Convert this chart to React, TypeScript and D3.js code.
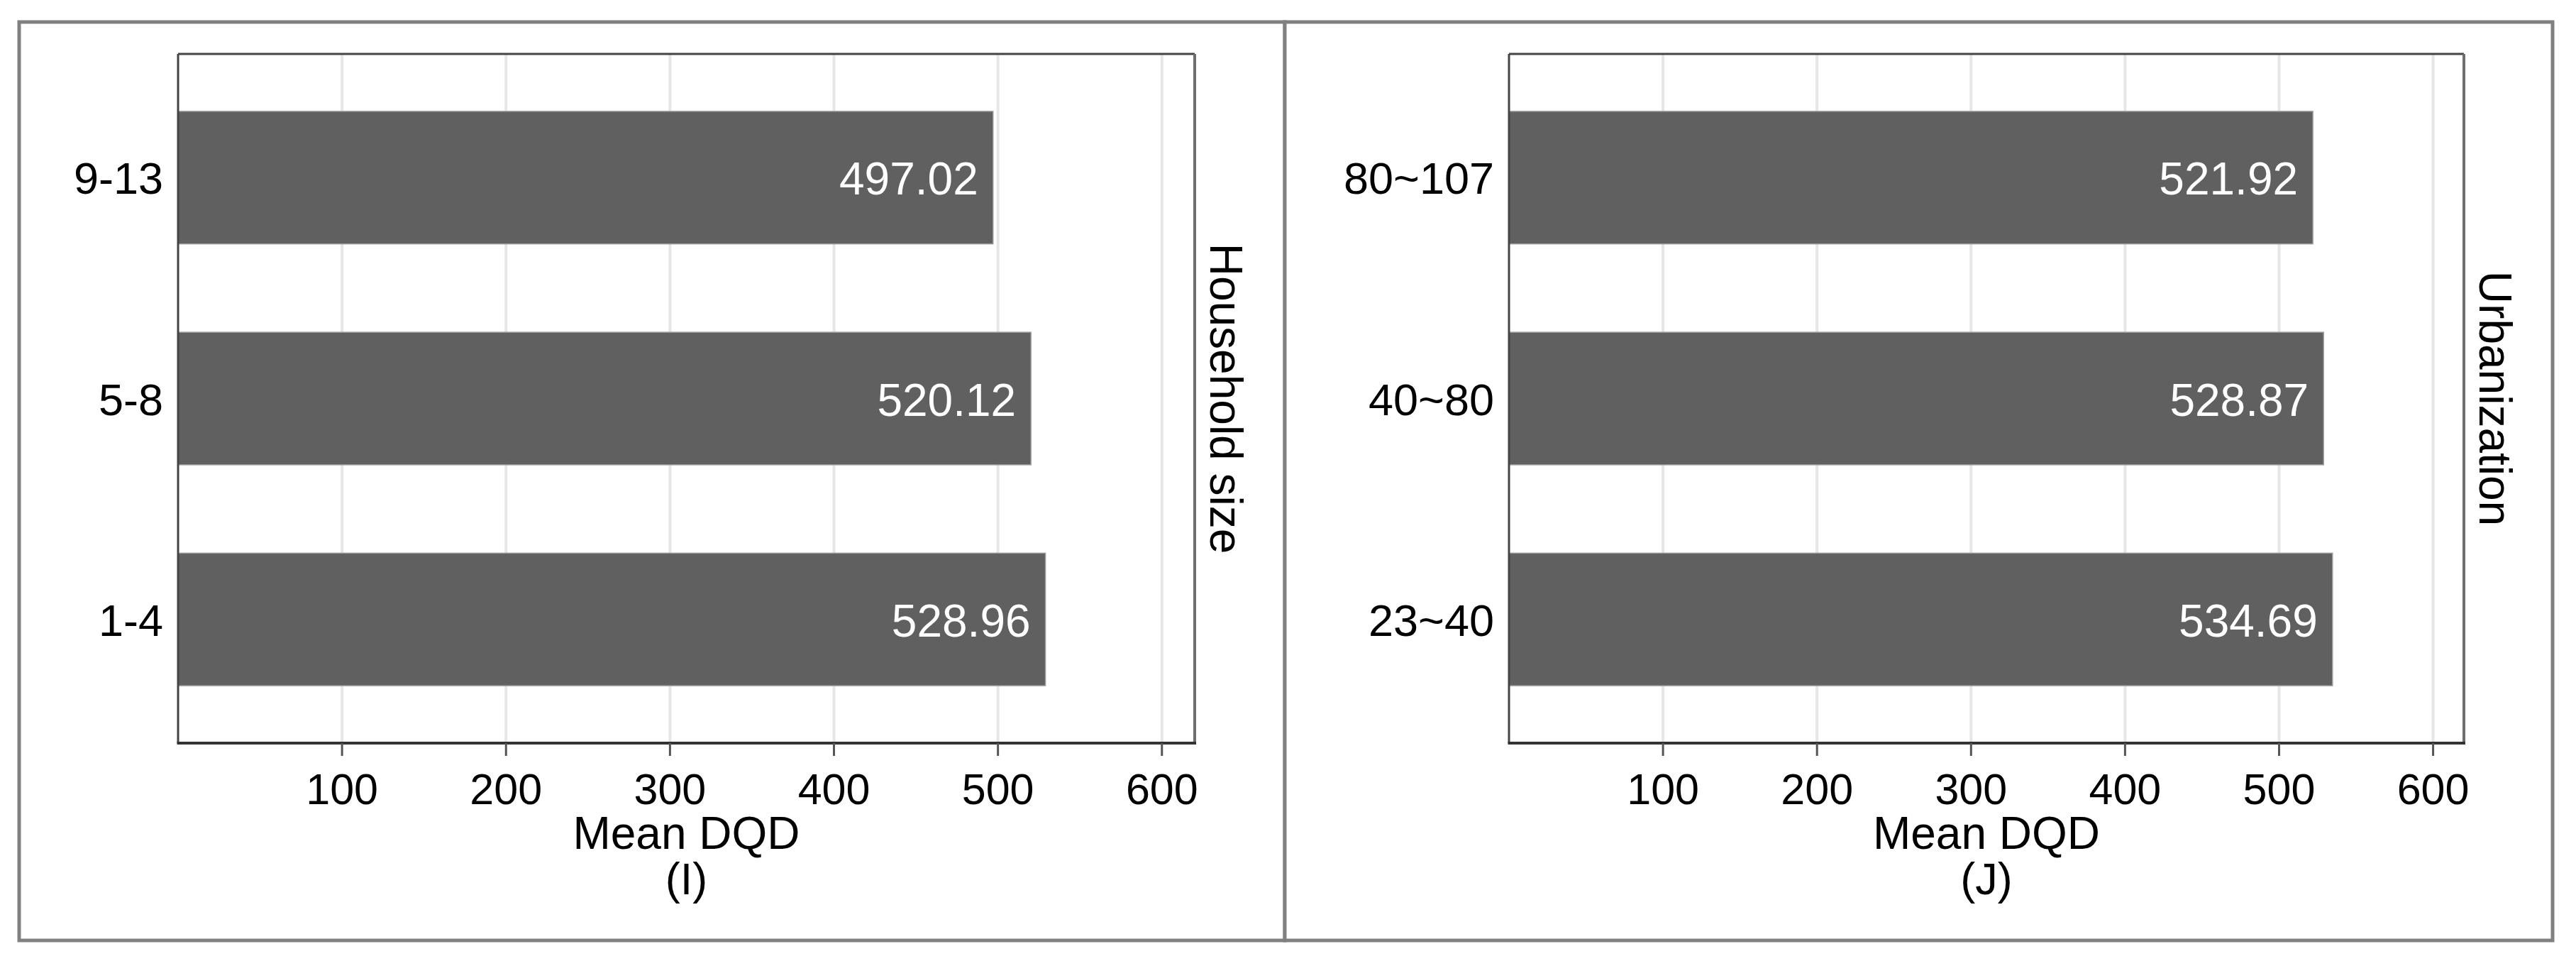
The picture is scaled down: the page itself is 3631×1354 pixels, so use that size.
import React from "react";
import * as d3 from "d3";

const householdCategories = ["9-13", "5-8", "1-4"];
const householdValues = [497.02, 520.12, 528.96];
const urbanCategories = ["80~107", "40~80", "23~40"];
const urbanValues = [521.92, 528.87, 534.69];
const xTicks = [100, 200, 300, 400, 500, 600];
const xDomainMax = 620;

const panelTitles = ["Household size", "Urbanization"];
const xTitle = "Mean DQD";
const panelLetters = ["(I)", "(J)"];

const W = 3631;
const H = 1354;
const FONT = "'Liberation Sans', Arial, Helvetica, sans-serif";

type PanelProps = {
  categories: string[];
  values: number[];
  title: string;
  letter: string;
  frame: [number, number, number, number];
  plot: [number, number, number, number];
};

function Panel({ categories, values, title, letter, frame, plot }: PanelProps) {
  const [pl, pt, pr, pb] = plot;
  const x = d3.scaleLinear().domain([0, xDomainMax]).range([pl, pr]);
  const y = d3
    .scaleBand<string>()
    .domain(categories)
    .range([pt, pb])
    .paddingInner(0.4)
    .paddingOuter(0.26);
  const cx = (pl + pr) / 2;
  const cy = (pt + pb) / 2;
  return (
    <g>
      <rect
        x={frame[0]}
        y={frame[1]}
        width={frame[2] - frame[0]}
        height={frame[3] - frame[1]}
        fill="white"
        stroke="#808080"
        strokeWidth={5}
      />
      <rect x={pl} y={pt} width={pr - pl} height={pb - pt} fill="white" />
      {xTicks.map((t) => (
        <line
          key={"g" + t}
          x1={x(t)}
          x2={x(t)}
          y1={pt}
          y2={pb}
          stroke="#e6e6e6"
          strokeWidth={4}
        />
      ))}
      {categories.map((c, i) => (
        <rect
          key={"b" + c}
          x={x(0)}
          y={y(c)!}
          width={x(values[i]) - x(0)}
          height={y.bandwidth()}
          fill="#606060"
          stroke="#9a9a9a"
          strokeWidth={1.5}
        />
      ))}
      {categories.map((c, i) => (
        <text
          key={"v" + c}
          x={x(values[i]) - 21}
          y={y(c)! + y.bandwidth() / 2 + 24}
          textAnchor="end"
          fill="white"
          fontSize={64}
          fontFamily={FONT}
        >
          {values[i].toFixed(2)}
        </text>
      ))}
      {categories.map((c) => (
        <text
          key={"c" + c}
          x={pl - 21}
          y={y(c)! + y.bandwidth() / 2 + 23}
          textAnchor="end"
          fill="black"
          fontSize={63}
          fontFamily={FONT}
        >
          {c}
        </text>
      ))}
      {/* plot region outline */}
      <line x1={pl} x2={pr} y1={pt} y2={pt} stroke="#444" strokeWidth={3} />
      <line x1={pr} x2={pr} y1={pt} y2={pb} stroke="#6e6e6e" strokeWidth={4} />
      <line x1={pl} x2={pl} y1={pt} y2={pb} stroke="#444" strokeWidth={3} />
      <line x1={pl - 1.5} x2={pr + 2} y1={pb} y2={pb} stroke="#333" strokeWidth={4} />
      {xTicks.map((t) => (
        <g key={"t" + t}>
          <line x1={x(t)} x2={x(t)} y1={pb} y2={pb + 18} stroke="#555" strokeWidth={3} />
          <text
            x={x(t)}
            y={1133}
            textAnchor="middle"
            fill="black"
            fontSize={61}
            fontFamily={FONT}
          >
            {t}
          </text>
        </g>
      ))}
      <text x={cx} y={1196} textAnchor="middle" fill="black" fontSize={64} fontFamily={FONT}>
        {xTitle}
      </text>
      <text x={cx} y={1260} textAnchor="middle" fill="black" fontSize={63} fontFamily={FONT}>
        {letter}
      </text>
      <text
        transform={`translate(${pr + 22},${cy}) rotate(90)`}
        textAnchor="middle"
        fill="black"
        fontSize={64}
        fontFamily={FONT}
      >
        {title}
      </text>
    </g>
  );
}

export default function App() {
  return (
    <svg
      width={W}
      height={H}
      viewBox={`0 0 ${W} ${H}`}
      style={{ position: "absolute", left: 0, top: 0, background: "white" }}
    >
      <rect x={0} y={0} width={W} height={H} fill="white" />
      <Panel
        categories={householdCategories}
        values={householdValues}
        title={panelTitles[0]}
        letter={panelLetters[0]}
        frame={[27, 31, 1811, 1325]}
        plot={[251, 76, 1684, 1047]}
      />
      <Panel
        categories={urbanCategories}
        values={urbanValues}
        title={panelTitles[1]}
        letter={panelLetters[1]}
        frame={[1811, 31, 3598, 1325]}
        plot={[2127, 76, 3473, 1047]}
      />
    </svg>
  );
}
